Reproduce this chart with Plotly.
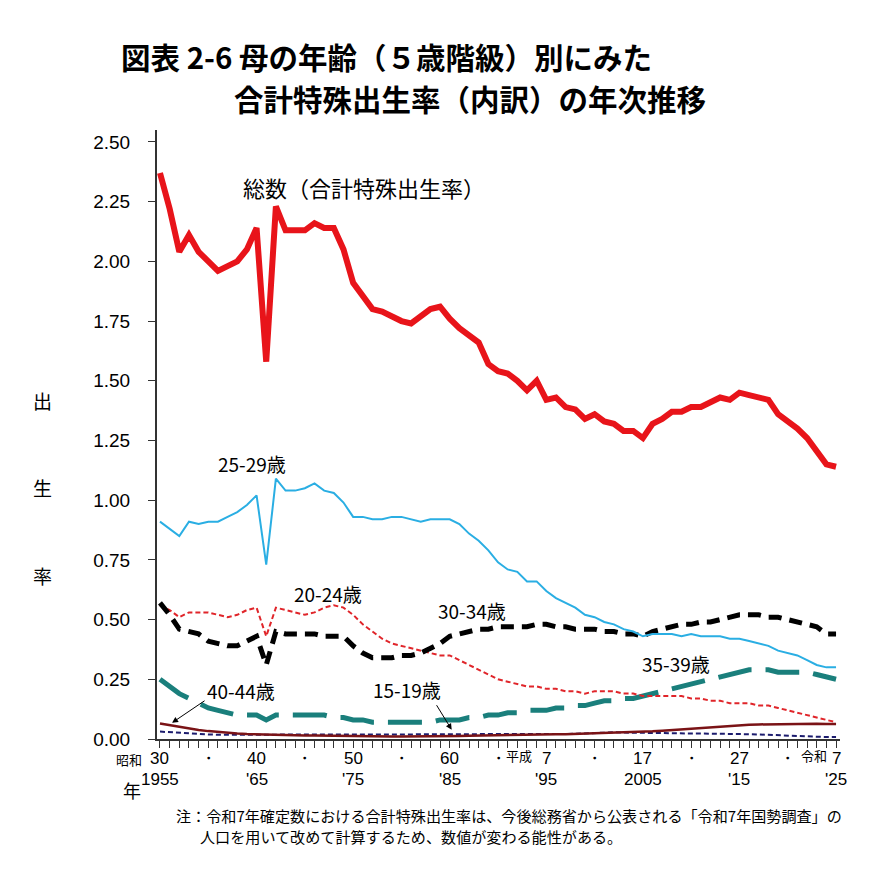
import plotly.graph_objects as go

years = list(range(1955, 2026))

total = [2.37,2.22,2.04,2.11,2.04,2.00,1.96,1.98,2.00,2.05,
         2.14,1.58,2.23,2.13,2.13,2.13,2.16,2.14,2.14,2.05,
         1.91,1.85,1.80,1.79,1.77,1.75,1.74,1.77,1.80,1.81,
         1.76,1.72,1.69,1.66,1.57,1.54,1.53,1.50,1.46,1.50,
         1.42,1.43,1.39,1.38,1.34,1.36,1.33,1.32,1.29,1.29,
         1.26,1.32,1.34,1.37,1.37,1.39,1.39,1.41,1.43,1.42,
         1.45,1.44,1.43,1.42,1.36,1.33,1.30,1.26,1.20,1.15,1.14]

age_25_29 = [0.91,0.88,0.85,0.91,0.90,0.91,0.91,0.93,0.95,0.98,
             1.02,0.73,1.09,1.04,1.04,1.05,1.07,1.04,1.03,0.99,
             0.93,0.93,0.92,0.92,0.93,0.93,0.92,0.91,0.92,0.92,
             0.92,0.90,0.86,0.83,0.79,0.74,0.71,0.70,0.66,0.66,
             0.62,0.59,0.57,0.55,0.52,0.51,0.49,0.48,0.46,0.45,
             0.43,0.44,0.44,0.44,0.43,0.44,0.43,0.43,0.43,0.42,
             0.42,0.41,0.40,0.39,0.37,0.36,0.35,0.33,0.31,0.30,0.30]

age_30_34 = [0.57,0.52,0.46,0.45,0.44,0.41,0.40,0.39,0.39,0.41,
             0.43,0.31,0.45,0.44,0.44,0.44,0.44,0.43,0.43,0.43,
             0.39,0.36,0.34,0.34,0.34,0.35,0.35,0.36,0.38,0.40,
             0.43,0.44,0.45,0.46,0.46,0.47,0.47,0.47,0.47,0.48,
             0.48,0.47,0.47,0.46,0.46,0.46,0.45,0.45,0.44,0.44,
             0.43,0.45,0.46,0.47,0.48,0.48,0.49,0.49,0.50,0.51,
             0.52,0.52,0.52,0.51,0.51,0.50,0.49,0.48,0.47,0.44,0.44]

age_20_24 = [0.56,0.54,0.51,0.53,0.53,0.53,0.52,0.51,0.52,0.54,
             0.55,0.43,0.55,0.54,0.53,0.52,0.53,0.55,0.56,0.55,
             0.52,0.48,0.45,0.42,0.40,0.39,0.38,0.37,0.36,0.35,
             0.35,0.33,0.31,0.29,0.27,0.25,0.24,0.23,0.22,0.22,
             0.21,0.21,0.20,0.20,0.19,0.20,0.20,0.20,0.19,0.19,
             0.18,0.18,0.18,0.18,0.18,0.17,0.17,0.16,0.16,0.15,
             0.15,0.15,0.14,0.14,0.13,0.12,0.11,0.10,0.09,0.08,0.07]

age_35_39 = [0.25,0.22,0.19,0.17,0.15,0.13,0.12,0.11,0.10,0.10,
             0.10,0.08,0.10,0.10,0.10,0.10,0.10,0.10,0.09,0.09,
             0.08,0.08,0.07,0.07,0.07,0.07,0.07,0.07,0.07,0.08,
             0.08,0.08,0.09,0.09,0.10,0.10,0.11,0.11,0.12,0.12,
             0.12,0.13,0.13,0.14,0.14,0.15,0.16,0.16,0.17,0.17,
             0.18,0.19,0.20,0.21,0.22,0.23,0.24,0.25,0.26,0.27,
             0.28,0.29,0.29,0.29,0.28,0.28,0.28,0.28,0.27,0.26,0.25]

age_40_44 = [0.065,0.058,0.050,0.044,0.038,0.033,0.029,0.026,0.023,0.021,
             0.020,0.016,0.018,0.017,0.016,0.015,0.015,0.014,0.014,0.013,
             0.012,0.011,0.011,0.010,0.010,0.010,0.010,0.010,0.011,0.011,
             0.012,0.013,0.014,0.015,0.016,0.017,0.017,0.018,0.018,0.019,
             0.019,0.020,0.020,0.021,0.022,0.023,0.024,0.025,0.027,0.028,
             0.030,0.032,0.035,0.038,0.041,0.044,0.047,0.050,0.053,0.056,
             0.058,0.060,0.061,0.062,0.063,0.063,0.064,0.064,0.064,0.063,0.063]

age_15_19 = [0.031,0.028,0.025,0.022,0.020,0.019,0.018,0.018,0.018,0.018,
             0.018,0.016,0.018,0.018,0.018,0.018,0.018,0.018,0.018,0.017,
             0.017,0.017,0.017,0.017,0.018,0.018,0.019,0.020,0.020,0.021,
             0.021,0.021,0.021,0.020,0.019,0.018,0.018,0.018,0.018,0.019,
             0.019,0.020,0.021,0.022,0.024,0.027,0.028,0.028,0.027,0.026,
             0.026,0.025,0.025,0.024,0.024,0.023,0.023,0.023,0.022,0.022,
             0.021,0.020,0.019,0.017,0.015,0.013,0.011,0.010,0.009,0.008,0.008]

y_ticks = [0, 0.25, 0.5, 0.75, 1.0, 1.25, 1.5, 1.75, 2.0, 2.25, 2.5]
era_labels = ["30", "・", "40", "・", "50", "・", "60", "・", "7", "・", "17", "・", "27", "・", "7"]
era_label_years = [1955, 1960, 1965, 1970, 1975, 1980, 1985, 1990, 1995, 2000, 2005, 2010, 2015, 2020, 2025]
west_labels = ["1955", "'65", "'75", "'85", "'95", "2005", "'15", "'25"]
west_label_years = [1955, 1965, 1975, 1985, 1995, 2005, 2015, 2025]

JP = "Noto Sans CJK JP"
NUM = "Liberation Sans, Arial, sans-serif"
NARROW = "Liberation Sans Narrow, Arial Narrow, Liberation Sans, sans-serif"

fig = go.Figure()

def add_line(vals, color, width, dash="solid"):
    fig.add_trace(go.Scatter(x=years, y=vals, mode="lines",
                             line=dict(color=color, width=width, dash=dash),
                             showlegend=False, hoverinfo="skip"))

add_line(age_15_19, "#1c1c6e", 2, "5px,3px")
add_line(age_40_44, "#7a1316", 2.5)
add_line(age_35_39, "#1a7f7c", 5, "34px,14px")
add_line(age_20_24, "#e0252a", 2, "5px,3px")
add_line(age_30_34, "#000000", 5, "13px,8px")
add_line(age_25_29, "#2aaee3", 2)
add_line(total, "#e8141a", 6)

L, R, T, B = 157, 840, 130, 739
W, H = R - L, B - T
def px(x):
    return (x - L) / W
def py(y):
    return (B - y) / H

ann = []
def text(s, x, y, size, font=JP, xanchor="center", color="#000", bold=False):
    if bold:
        s = "<b>" + s + "</b>"
    ann.append(dict(text=s, x=px(x), y=py(y), xref="paper", yref="paper",
                    xanchor=xanchor, yanchor="middle", showarrow=False,
                    font=dict(family=font, size=size, color=color)))

# Title
text("図表 2-6 母の年齢（５歳階級）別にみた", 119, 56, 29.5, xanchor="left", bold=True)
text("合計特殊出生率（内訳）の年次推移", 232, 98, 29.5, xanchor="left", bold=True)

# y axis title
text("出", 42, 400, 19)
text("生", 42, 487, 19)
text("率", 42, 575, 19)

# series labels
text("総数（合計特殊出生率）", 364, 187, 22)
text("25-29歳", 252, 463, 19)
text("20-24歳", 328, 593, 19)
text("30-34歳", 472, 610, 19)
text("35-39歳", 676, 663, 19)
text("40-44歳", 241, 690, 19)
text("15-19歳", 407, 689, 19)

# x axis labels
for lab, yr in zip(era_labels, era_label_years):
    ann.append(dict(text=lab, x=yr, y=py(758), xref="x", yref="paper",
                    xanchor="center", yanchor="middle", showarrow=False,
                    font=dict(family=NARROW, size=17, color="#000")))
for lab, yr in zip(west_labels, west_label_years):
    ann.append(dict(text=lab, x=yr, y=py(779), xref="x", yref="paper",
                    xanchor="center", yanchor="middle", showarrow=False,
                    font=dict(family=NARROW, size=17, color="#000")))
text("昭和", 129, 759, 13)
text("平成", 519, 755, 13)
text("令和", 814, 755, 13)
text("年", 132, 790, 18)

# footnote
text("注：令和7年確定数における合計特殊出生率は、今後総務省から公表される「令和7年国勢調査」の",
     174, 815, 15.1, xanchor="left")
text("人口を用いて改めて計算するため、数値が変わる能性がある。", 198, 836, 15.1, xanchor="left")

# arrows
ann.append(dict(x=years[0] + 1.25, y=age_40_44[1] + 0.01, xref="x", yref="y",
                ax=34, ay=-23, axref="pixel", ayref="pixel", text="",
                showarrow=True, arrowhead=2, arrowsize=1.2, arrowwidth=1, arrowcolor="#000"))
ann.append(dict(x=1985.2, y=age_15_19[30] + 0.018, xref="x", yref="y",
                ax=-16, ay=-26, text="",
                showarrow=True, arrowhead=2, arrowsize=1.2, arrowwidth=1, arrowcolor="#000"))

fig.update_layout(
    width=882, height=890,
    margin=dict(l=L, r=882 - R, t=T, b=890 - B),
    paper_bgcolor="white", plot_bgcolor="white",
    annotations=ann,
    showlegend=False,
)
fig.update_xaxes(range=[1954.69, 2025.41], showgrid=False, zeroline=False,
                 showline=True, linecolor="#333", linewidth=2,
                 tickmode="array", tickvals=years, ticks="outside",
                 ticklen=7, tickwidth=1.2, tickcolor="#333", showticklabels=False)
fig.update_yaxes(range=[0, 2.55], showgrid=False, zeroline=False,
                 showline=True, linecolor="#333", linewidth=2,
                 tickmode="array", tickvals=y_ticks,
                 ticktext=["%.2f" % v for v in y_ticks],
                 ticks="outside", ticklen=7, tickwidth=1.2, tickcolor="#333",
                 tickfont=dict(family=NUM, size=19, color="#000"),
                 ticklabelstandoff=14)

fig.write_html("out.html")
